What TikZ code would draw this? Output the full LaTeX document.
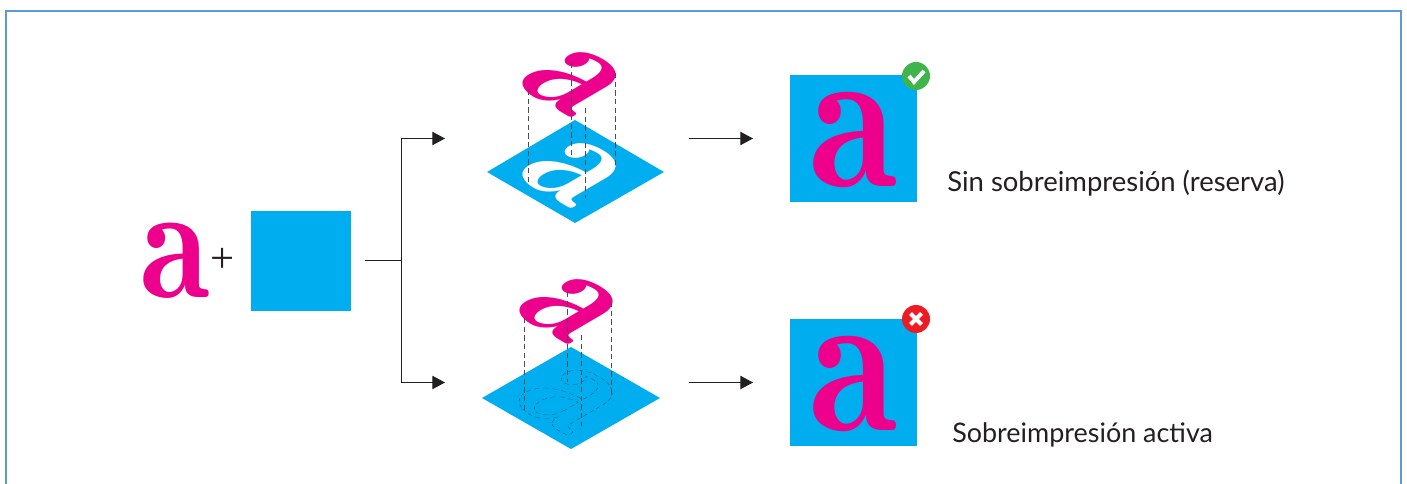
\documentclass[tikz,border=0pt]{standalone}
\usepackage{fontspec}
\setmainfont{Lato}
\newfontfamily\glyphfont{lmromandemi10-regular.otf}[FakeStretch=0.87]
\newfontfamily\plusfont{Liberation Serif}
\definecolor{cyanp}{HTML}{00AEEF}
\definecolor{magp}{HTML}{EC008C}
\definecolor{frameblue}{HTML}{5B9BD5}
\definecolor{inkd}{HTML}{231F20}
\definecolor{okg}{HTML}{3DB54A}
\definecolor{nored}{HTML}{ED1C24}
\usetikzlibrary{arrows.meta}
\tikzset{
  wire/.style={draw=inkd,line width=0.75pt},
  arrowwire/.style={wire,-{Triangle[length=9.5pt,width=10pt]}},
  guide/.style={draw=inkd!80,line width=0.6pt,dash pattern=on 4pt off 2.5pt},
  glyph/.style={font=\glyphfont\fontsize{156}{156}\selectfont,inner sep=0pt,text=magp,transform shape},
  caption/.style={font=\fontsize{20.6}{24}\selectfont,text=inkd,anchor=base west,inner sep=0pt}
}
\begin{document}
\begin{tikzpicture}[x=0.75pt,y=-0.75pt]
\useasboundingbox (0,0) rectangle (1407,484);
% frame
\draw[frameblue,line width=0.9pt] (6,484) -- (6,11) -- (1401,11) -- (1401,484);
% source
\node[glyph,scale=0.79] (srca) at (175.5,260.5) {a};
\node[font=\plusfont\fontsize{32}{32}\selectfont,text=inkd,inner sep=0pt] (plus) at (223,260.5) {+};
\fill[cyanp] (251,211) rectangle (351,311);
\coordinate (src) at (365,260.5);
\coordinate (split) at (401.5,260.5);
\coordinate (upT) at (445,138.5);
\coordinate (dnT) at (445,382.5);
\draw[wire] (src) -- (split);
\draw[arrowwire] (split) |- (upT);
\draw[arrowwire] (split) |- (dnT);
% upper stack
\fill[cyanp] (575,120) -- (664,172) -- (575,223) -- (487,172) -- cycle;
\begin{scope}[shift={(574,172)},cm={.70,-.41,.70,.41,(0,0)}]
\node[glyph,text=white] (uw) at (0,0) {a};
\end{scope}
\begin{scope}[shift={(574,81)},cm={.70,-.41,.70,.41,(0,0)}]
\node[glyph] (up) at (0,0) {a};
\end{scope}
\draw[guide] (528,90) -- (528,182);
\draw[guide] (571,63) -- (571,155);
\draw[guide] (585,108) -- (585,198);
\draw[guide] (615,73) -- (615,167);
% lower stack
\fill[cyanp] (571,347) -- (660,398) -- (571,449) -- (482,398) -- cycle;
\begin{scope}[shift={(570,399)},cm={.70,-.41,.70,.41,(0,0)}]
\node[glyph] (lw) at (0,0) {\special{pdf:code q 1 Tr 0.5 w [4 3] 0 d 0 0.42 0.62 RG}a\special{pdf:code Q}};
\end{scope}
\begin{scope}[shift={(570.5,308)},cm={.70,-.41,.70,.41,(0,0)}]
\node[glyph] (lp) at (0,0) {a};
\end{scope}
\draw[guide] (524,318) -- (524,410);
\draw[guide] (567,292) -- (567,382);
\draw[guide] (581,335) -- (581,426);
\draw[guide] (611,302) -- (611,395);
% arrows
\coordinate (a1s) at (689,138.5); \coordinate (a1e) at (753,138.5);
\coordinate (a2s) at (689,382.5); \coordinate (a2e) at (753,382.5);
\draw[arrowwire] (a1s) -- (a1e);
\draw[arrowwire] (a2s) -- (a2e);
% results
\fill[cyanp] (790,75) rectangle (917,202);
\node[glyph] (ra1) at (853.5,140) {a};
\fill[cyanp] (790,319) rectangle (917,446);
\node[glyph] (ra2) at (853.5,384) {a};
% badges
\fill[okg] (916,76) circle[radius=14];
\draw[white,line width=3pt] (909,76) -- (914,82) -- (924,71);
\fill[nored] (916,319) circle[radius=14];
\draw[white,line width=3pt] (910.5,313.5) -- (921.5,324.5) (921.5,313.5) -- (910.5,324.5);
% captions
\node[caption] (c1) at (947,191.5) {Sin sobreimpresión (reserva)};
\node[caption,font=\fontsize{20.2}{24}\selectfont] (c2) at (952,442.5) {Sobreimpresión activa};
\end{tikzpicture}
\end{document}
